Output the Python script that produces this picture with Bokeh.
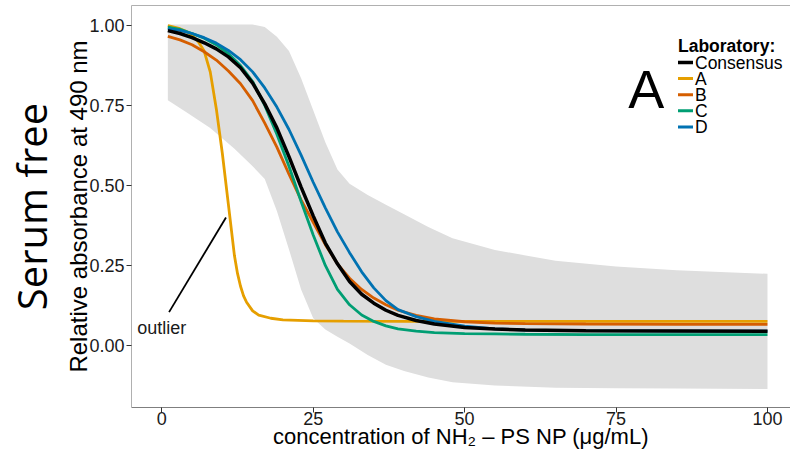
import math
from bokeh.plotting import figure
from bokeh.models import (Range1d, LinearAxis, FixedTicker, PrintfTickFormatter,
                          Label, BoxAnnotation)
from bokeh.embed import file_html
from bokeh.resources import INLINE

# ---------------- data ----------------
conc = [1, 3, 5, 7, 9, 11, 13, 15, 17, 19, 21, 23, 25, 27, 29, 31, 33, 35, 37, 39, 42, 45,
        50, 55, 60, 70, 85, 100]
consensus = [0.984, 0.975, 0.962, 0.946, 0.927, 0.902, 0.868, 0.82, 0.755, 0.68, 0.59, 0.495, 0.405,
             0.32, 0.255, 0.2, 0.16, 0.132, 0.11, 0.094, 0.078, 0.067, 0.056, 0.051, 0.048, 0.046,
             0.045, 0.044]
lab_b = [0.966, 0.955, 0.94, 0.918, 0.892, 0.858, 0.818, 0.765, 0.695, 0.62, 0.535, 0.455, 0.385,
         0.315, 0.255, 0.21, 0.175, 0.148, 0.127, 0.11, 0.094, 0.083, 0.074, 0.07, 0.068, 0.067,
         0.066, 0.066]
lab_c = [0.995, 0.988, 0.975, 0.96, 0.94, 0.912, 0.875, 0.825, 0.75, 0.66, 0.56, 0.45, 0.345,
         0.25, 0.175, 0.127, 0.095, 0.075, 0.061, 0.052, 0.045, 0.04, 0.037, 0.036, 0.035, 0.034,
         0.034, 0.034]
lab_d = [0.99, 0.985, 0.975, 0.962, 0.945, 0.922, 0.893, 0.855, 0.805, 0.745, 0.675, 0.595, 0.51,
         0.43, 0.355, 0.29, 0.23, 0.18, 0.14, 0.112, 0.09, 0.075, 0.06, 0.052, 0.048, 0.046,
         0.045, 0.045]

conc_a = [1, 2, 3, 4, 5, 6, 7, 8, 9, 10, 11, 12, 12.5, 13, 13.5, 14, 15, 16, 18, 20, 25, 30, 40, 60, 100]
lab_a = [1.0, 0.995, 0.99, 0.982, 0.97, 0.95, 0.92, 0.855, 0.74, 0.6, 0.44, 0.28, 0.225, 0.185, 0.155,
         0.135, 0.108, 0.095, 0.085, 0.08, 0.077, 0.076, 0.075, 0.075, 0.075]

band_x = [1, 4, 8, 12, 15, 17, 19, 21, 23, 25, 27, 29, 31, 34, 37, 40, 44, 48, 55, 65, 75, 85, 100]
band_hi = [1.003, 1.003, 1.003, 1.003, 1.003, 0.995, 0.965, 0.92, 0.835, 0.735, 0.635, 0.55, 0.505,
           0.47, 0.44, 0.41, 0.37, 0.335, 0.298, 0.265, 0.247, 0.235, 0.224]
band_lo = [0.766, 0.73, 0.68, 0.615, 0.56, 0.52, 0.42, 0.3, 0.175, 0.085, 0.05, 0.027, 0.006,
           -0.03, -0.06, -0.08, -0.1, -0.115, -0.125, -0.132, -0.134, -0.135, -0.136]

outlier_arrow_x = [1.2, 10.6]
outlier_arrow_y = [0.104, 0.40]

x_ticks = [0, 25, 50, 75, 100]
y_ticks = [0.0, 0.25, 0.5, 0.75, 1.0]

legend_labels = ["Consensus", "A", "B", "C", "D"]
legend_colors = ["black", "#E69F00", "#D55E00", "#009E73", "#0072B2"]

FONT = "Liberation Sans"

p = figure(width=790, height=456, output_backend="svg", toolbar_location=None,
           x_range=Range1d(-5, 103.8), y_range=Range1d(-0.194, 1.0625),
           min_border_left=131, min_border_right=0, min_border_top=5, min_border_bottom=49)
p.outline_line_color = None
p.grid.visible = False

# ribbon
p.varea(x=band_x, y1=band_lo, y2=band_hi, fill_color="#dedede")

p.line(conc_a, lab_a, line_color=legend_colors[1], line_width=2.8)
p.line(conc, lab_b, line_color=legend_colors[2], line_width=2.8)
p.line(conc, lab_c, line_color=legend_colors[3], line_width=2.8)
p.line(conc, lab_d, line_color=legend_colors[4], line_width=2.8)
p.line(conc, consensus, line_color=legend_colors[0], line_width=3.5)

p.line(outlier_arrow_x, outlier_arrow_y, line_color="black", line_width=1.8)

p.add_layout(Label(x=0, y=0.053, text="outlier", text_align="center", text_baseline="middle",
                   text_font=FONT, text_font_size="18px", text_color="#1a1a1a"))
p.add_layout(Label(x=80, y=0.8, text="A", text_align="center", text_baseline="middle",
                   text_font=FONT, text_font_size="54px", text_color="black"))

# manual legend (screen units relative to the frame)
leg_x = 546.5
p.add_layout(Label(x=leg_x, y=362, x_units="screen", y_units="screen", text="Laboratory:",
                   text_align="left", text_baseline="middle", text_font=FONT,
                   text_font_style="bold", text_font_size="17.5px", text_color="black"))
row_y = 345
for lab, col in zip(legend_labels, legend_colors):
    half = 1.8 if col == "black" else 1.5
    p.add_layout(BoxAnnotation(left=leg_x, right=leg_x + 15, bottom=row_y - half, top=row_y + half,
                               left_units="screen", right_units="screen",
                               bottom_units="screen", top_units="screen",
                               fill_color=col, fill_alpha=1, line_color=None))
    p.add_layout(Label(x=leg_x + 17, y=row_y, x_units="screen", y_units="screen", text=lab,
                       text_align="left", text_baseline="middle", text_font=FONT,
                       text_font_size="17.5px", text_color="black"))
    row_y -= 16.1

# axes
xa = p.xaxis[0]
xa.ticker = FixedTicker(ticks=x_ticks)
xa.axis_label = "concentration of NH\u2082 \u2013 PS NP (\u03bcg/mL)"
ya = p.yaxis[0]
ya.ticker = FixedTicker(ticks=y_ticks)
ya.formatter = PrintfTickFormatter(format="%.2f")
ya.axis_label = "Relative absorbance at 490 nm"
for ax in (xa, ya):
    ax.major_tick_out = 5
    ax.major_tick_in = 0
    ax.minor_tick_line_color = None
    ax.major_tick_line_color = "#333333"
    ax.major_label_text_font = FONT
    ax.major_label_text_font_size = "18px"
    ax.major_label_text_color = "#1a1a1a"
    ax.axis_label_text_font = FONT
    ax.axis_label_text_font_style = "normal"
    ax.axis_label_text_color = "black"
xa.axis_label_text_font_size = "22px"
ya.axis_label_text_font_size = "24px"
xa.major_label_standoff = -1
xa.axis_label_standoff = -4
ya.major_label_standoff = 2
ya.axis_label_standoff = -6
xa.axis_line_color = "#7f7f7f"
ya.axis_line_color = "#b0b0b0"

top = LinearAxis(ticker=FixedTicker(ticks=[]), axis_line_color="#b0b0b0",
                 major_tick_line_color=None, minor_tick_line_color=None,
                 major_tick_out=0, major_label_standoff=0,
                 major_label_text_font_size="0px")
p.add_layout(top, "above")

serum = LinearAxis(ticker=FixedTicker(ticks=[]), axis_label="Serum free",
                   axis_label_text_font="Open Sans", axis_label_text_font_size="40px",
                   axis_label_text_font_style="normal", axis_label_text_color="black",
                   axis_line_color=None, major_tick_line_color=None, minor_tick_line_color=None,
                   major_tick_out=0, major_tick_in=0, major_label_standoff=0,
                   axis_label_standoff=4, major_label_text_font_size="0px")
p.add_layout(serum, "left")

open("out.html", "w").write(file_html(p, INLINE))
